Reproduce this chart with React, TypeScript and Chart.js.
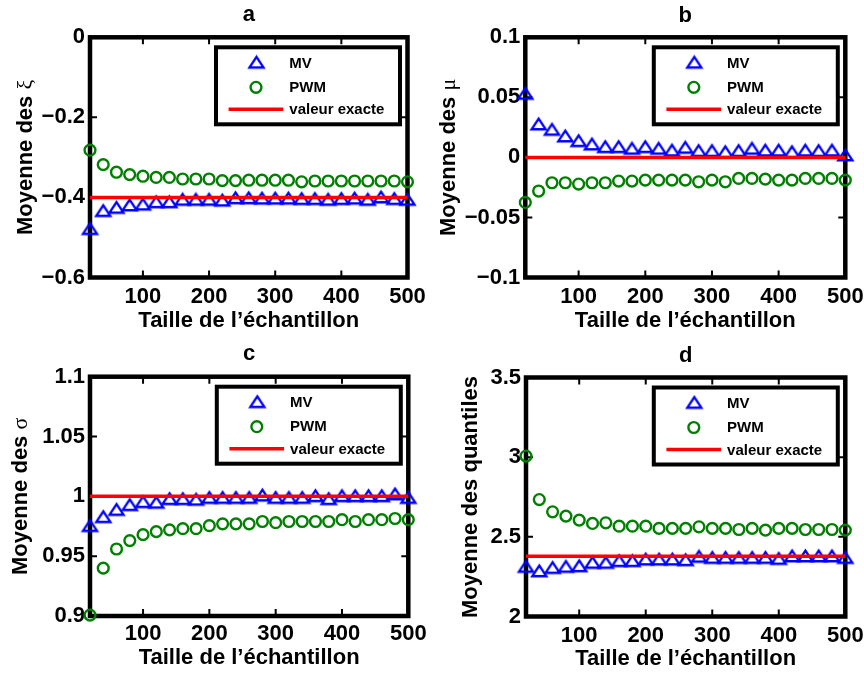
import React, { useEffect, useRef } from 'react';
import { Chart, registerables } from 'chart.js';

Chart.register(...registerables);

// ---------- data ----------
const sampleSizes = [20, 40, 60, 80, 100, 120, 140, 160, 180, 200, 220, 240, 260, 280, 300, 320, 340, 360, 380, 400, 420, 440, 460, 480, 500];
const xTickValues = [100, 200, 300, 400, 500];

const xiMV = [-0.478, -0.433, -0.425, -0.419, -0.417, -0.411, -0.411, -0.405, -0.405, -0.405, -0.407, -0.401, -0.401, -0.402, -0.402, -0.402, -0.403, -0.403, -0.405, -0.403, -0.402, -0.405, -0.399, -0.403, -0.405];
const xiPWM = [-0.282, -0.318, -0.337, -0.343, -0.347, -0.35, -0.35, -0.354, -0.354, -0.354, -0.358, -0.358, -0.357, -0.357, -0.357, -0.357, -0.361, -0.359, -0.359, -0.359, -0.359, -0.359, -0.359, -0.359, -0.361];
const xiExact = -0.4;
const xiTicks = [-0.6, -0.4, -0.2, 0];

const muMV = [0.0533, 0.0278, 0.0233, 0.0178, 0.0139, 0.0111, 0.0089, 0.0089, 0.0075, 0.0089, 0.0075, 0.006, 0.0083, 0.0056, 0.0056, 0.0047, 0.0056, 0.0075, 0.006, 0.006, 0.0047, 0.006, 0.0056, 0.006, 0.002];
const muPWM = [-0.0375, -0.028, -0.0211, -0.0211, -0.0222, -0.0211, -0.0211, -0.0197, -0.0197, -0.0189, -0.0189, -0.0189, -0.0189, -0.0203, -0.0189, -0.0203, -0.0175, -0.0175, -0.0181, -0.0189, -0.0189, -0.0175, -0.0175, -0.0175, -0.0189];
const muExact = 0;
const muTicks = [-0.1, -0.05, 0, 0.05, 0.1];

const sigmaMV = [0.9755, 0.983, 0.989, 0.993, 0.9955, 0.995, 0.998, 0.998, 0.9975, 0.999, 0.999, 0.999, 0.999, 1.001, 0.999, 0.999, 0.999, 1.0005, 0.998, 1.0005, 1.0005, 1.0005, 1.0005, 1.002, 0.999];
const sigmaPWM = [0.9008, 0.94, 0.956, 0.963, 0.968, 0.9705, 0.972, 0.973, 0.973, 0.9755, 0.977, 0.977, 0.977, 0.979, 0.978, 0.979, 0.979, 0.979, 0.979, 0.9805, 0.979, 0.9805, 0.9805, 0.9815, 0.9805];
const sigmaExact = 1;
const sigmaTicks = [0.9, 0.95, 1, 1.05, 1.1];

const qMV = [2.314, 2.286, 2.307, 2.314, 2.318, 2.339, 2.339, 2.35, 2.35, 2.36, 2.36, 2.36, 2.356, 2.377, 2.37, 2.37, 2.37, 2.37, 2.37, 2.364, 2.38, 2.38, 2.38, 2.38, 2.37];
const qPWM = [3.007, 2.734, 2.657, 2.63, 2.605, 2.584, 2.588, 2.567, 2.567, 2.567, 2.553, 2.553, 2.553, 2.563, 2.553, 2.553, 2.546, 2.553, 2.542, 2.553, 2.553, 2.546, 2.546, 2.546, 2.542];
const qExact = 2.378;
const qTicks = [2, 2.5, 3, 3.5];

const legendLabels = ['MV', 'PWM', 'valeur exacte'];
const panelTitles = ['a', 'b', 'c', 'd'];
const xAxisTitle = 'Taille de l\u2019échantillon';
const yTitlePrefix = 'Moyenne des ';
const yTitleSymbols = ['ξ', 'μ', 'σ', 'quantiles'];

// ---------- styles ----------
const SANS = "'Liberation Sans', Arial, Helvetica, sans-serif";
const SERIF = "'Liberation Serif', 'DejaVu Serif', serif";
const BLUE = '#0000ff';
const GREEN = '#008000';
const RED = '#ff0000';

type Spec = {
  left: number; top: number; w: number; h: number;
  plotL: number; plotR: number; plotT: number; plotB: number;
  titleMid: number; yTitleBase: number; xTickPad: number; xTitlePb: number;
  yMin: number; yMax: number;
  ticks: number[]; mv: number[]; pwm: number[]; exact: number;
  title: string; symbol: string; symbolBold: boolean;
};

const specs: Spec[] = [
  { left: 0, top: 0, w: 432, h: 336, plotL: 90, plotR: 407.5, plotT: 37.3, plotB: 277.5, titleMid: 15.1, yTitleBase: 31.7, xTickPad: 6.7, xTitlePb: 2.1,
    yMin: -0.6, yMax: 0, ticks: xiTicks, mv: xiMV, pwm: xiPWM, exact: xiExact, title: panelTitles[0], symbol: yTitleSymbols[0], symbolBold: false },
  { left: 432, top: 0, w: 432, h: 336, plotL: 93.3, plotR: 413.3, plotT: 37.3, plotB: 277.5, titleMid: 15.7, yTitleBase: 23, xTickPad: 6.7, xTitlePb: 2.1,
    yMin: -0.1, yMax: 0.1, ticks: muTicks, mv: muMV, pwm: muPWM, exact: muExact, title: panelTitles[1], symbol: yTitleSymbols[1], symbolBold: false },
  { left: 0, top: 336, w: 432, h: 337, plotL: 90, plotR: 408.3, plotT: 40.7, plotB: 280, titleMid: 18.1, yTitleBase: 26.7, xTickPad: 4.9, xTitlePb: 1.4,
    yMin: 0.9, yMax: 1.1, ticks: sigmaTicks, mv: sigmaMV, pwm: sigmaPWM, exact: sigmaExact, title: panelTitles[2], symbol: yTitleSymbols[2], symbolBold: false },
  { left: 432, top: 336, w: 432, h: 337, plotL: 94, plotR: 413.3, plotT: 41.5, plotB: 280.5, titleMid: 19.7, yTitleBase: 45, xTickPad: 6, xTitlePb: 0.7,
    yMin: 2, yMax: 3.5, ticks: qTicks, mv: qMV, pwm: qPWM, exact: qExact, title: panelTitles[3], symbol: yTitleSymbols[3], symbolBold: true },
];

function makeTriangle(): HTMLCanvasElement {
  const c = document.createElement('canvas');
  c.width = 21; c.height = 16;
  const g = c.getContext('2d')!;
  g.strokeStyle = BLUE;
  g.lineWidth = 2.4;
  g.lineJoin = 'miter';
  g.beginPath();
  g.moveTo(10.5, 2.6);
  g.lineTo(3.5, 13.2);
  g.lineTo(17.5, 13.2);
  g.closePath();
  g.stroke();
  return c;
}

function fmt(v: number): string {
  return v < 0 ? '\u2212' + String(Math.abs(v)) : String(v);
}

function buildConfig(spec: Spec, tri: HTMLCanvasElement): any {
  const mvData = sampleSizes.map((x, i) => ({ x, y: spec.mv[i] }));
  const pwmData = sampleSizes.map((x, i) => ({ x, y: spec.pwm[i] }));
  const exactData = [
    { x: sampleSizes[0], y: spec.exact },
    { x: sampleSizes[sampleSizes.length - 1], y: spec.exact },
  ];

  const boxPlugin = {
    id: 'matlabBox',
    beforeDatasetsDraw(chart: any) {
      const { ctx, chartArea: ca, scales } = chart;
      ctx.save();
      ctx.strokeStyle = '#000';
      ctx.lineWidth = 2;
      const len = 7;
      for (const v of xTickValues) {
        const px = scales.x.getPixelForValue(v);
        ctx.beginPath();
        ctx.moveTo(px, ca.bottom); ctx.lineTo(px, ca.bottom - len);
        ctx.moveTo(px, ca.top); ctx.lineTo(px, ca.top + len);
        ctx.stroke();
      }
      for (const v of spec.ticks) {
        const py = scales.y.getPixelForValue(v);
        ctx.beginPath();
        ctx.moveTo(ca.left, py); ctx.lineTo(ca.left + len, py);
        ctx.moveTo(ca.right, py); ctx.lineTo(ca.right - len, py);
        ctx.stroke();
      }
      ctx.lineWidth = 4.5;
      ctx.lineJoin = 'miter';
      ctx.strokeRect(ca.left, ca.top, ca.right - ca.left, ca.bottom - ca.top);
      ctx.restore();
    },
  };

  const yTitlePlugin = {
    id: 'yTitle',
    afterDraw(chart: any) {
      const { ctx, chartArea: ca } = chart;
      const cy = (ca.top + ca.bottom) / 2;
      ctx.save();
      ctx.translate(spec.yTitleBase, cy);
      ctx.rotate(-Math.PI / 2);
      ctx.fillStyle = '#000';
      ctx.textBaseline = 'alphabetic';
      ctx.textAlign = 'left';
      const f1 = `bold 22px ${SANS}`;
      const f2 = spec.symbolBold ? `bold 22px ${SANS}` : `22px ${SERIF}`;
      ctx.font = f1;
      const w1 = ctx.measureText(yTitlePrefix).width;
      ctx.font = f2;
      const w2 = ctx.measureText(spec.symbol).width;
      const start = -(w1 + w2) / 2;
      ctx.font = f1;
      ctx.fillText(yTitlePrefix, start, 0);
      ctx.font = f2;
      ctx.fillText(spec.symbol, start + w1, 0);
      ctx.restore();
    },
  };

  const legendPlugin = {
    id: 'boxLegend',
    afterDraw(chart: any) {
      const { ctx, chartArea: ca } = chart;
      const bw = 184, bh = 77;
      const bx = ca.right - 7.5 - bw;
      const by = ca.top + 10;
      ctx.save();
      ctx.fillStyle = '#fff';
      ctx.fillRect(bx, by, bw, bh);
      ctx.strokeStyle = '#000';
      ctx.lineWidth = 4;
      ctx.strokeRect(bx, by, bw, bh);
      // MV marker
      ctx.drawImage(tri, bx + 40.5 - tri.width / 2, by + 15 - tri.height / 2);
      // PWM marker
      ctx.beginPath();
      ctx.arc(bx + 40, by + 40, 5.4, 0, Math.PI * 2);
      ctx.lineWidth = 2.4;
      ctx.strokeStyle = GREEN;
      ctx.stroke();
      // exact line
      ctx.beginPath();
      ctx.moveTo(bx + 12.6, by + 62);
      ctx.lineTo(bx + 67.3, by + 62);
      ctx.lineWidth = 3.5;
      ctx.strokeStyle = RED;
      ctx.stroke();
      ctx.fillStyle = '#000';
      ctx.font = `bold 15px ${SANS}`;
      ctx.textAlign = 'left';
      ctx.textBaseline = 'middle';
      ctx.fillText(legendLabels[0], bx + 73.3, by + 16.5);
      ctx.fillText(legendLabels[1], bx + 73.3, by + 40.5);
      ctx.fillText(legendLabels[2], bx + 73.3, by + 63);
      ctx.restore();
    },
  };

  const titlePadTop = spec.titleMid - 13.2;
  const titlePadBottom = spec.plotT - spec.titleMid - 13.2;

  return {
    type: 'scatter',
    data: {
      datasets: [
        {
          label: legendLabels[2], data: exactData, showLine: true, borderColor: RED, borderWidth: 3.5,
          pointRadius: 0, pointHoverRadius: 0, fill: false, order: 0, clip: false,
        },
        {
          label: legendLabels[0], data: mvData, showLine: false, pointStyle: tri, pointRadius: 8,
          borderColor: BLUE, backgroundColor: 'rgba(0,0,0,0)', order: 1, clip: false,
        },
        {
          label: legendLabels[1], data: pwmData, showLine: false, pointStyle: 'circle', pointRadius: 5.4,
          pointBorderWidth: 2.4, borderColor: GREEN, pointBorderColor: GREEN, backgroundColor: 'rgba(0,0,0,0)',
          pointBackgroundColor: 'rgba(0,0,0,0)', order: 2, clip: false,
        },
      ],
    },
    options: {
      responsive: false,
      maintainAspectRatio: false,
      animation: false,
      events: [],
      layout: { padding: { left: 0, top: 0, bottom: 0, right: spec.w - spec.plotR } },
      plugins: {
        legend: { display: false },
        tooltip: { enabled: false },
        title: {
          display: true, text: spec.title, fullSize: false, color: '#000',
          font: { family: SANS, size: 22, weight: 'bold', lineHeight: 1.2 },
          padding: { top: titlePadTop, bottom: titlePadBottom },
        },
      },
      scales: {
        x: {
          type: 'linear', position: 'bottom', min: sampleSizes[0], max: sampleSizes[sampleSizes.length - 1],
          grid: { display: false, drawTicks: false },
          border: { display: false },
          ticks: {
            color: '#000', padding: spec.xTickPad, maxRotation: 0, autoSkip: false,
            font: { family: SANS, size: 22, weight: 'bold', lineHeight: 1.2 },
            callback: (v: number) => String(v),
          },
          afterBuildTicks: (scale: any) => { scale.ticks = xTickValues.map((v) => ({ value: v })); },
          afterFit: (scale: any) => {
            scale.height = spec.h - spec.plotB;
            scale.paddingLeft = 0; scale.paddingRight = 0; scale.paddingTop = 0; scale.paddingBottom = 0;
          },
          title: {
            display: true, text: xAxisTitle, color: '#000',
            font: { family: SANS, size: 22, weight: 'bold', lineHeight: 1.2 },
            padding: { top: 0, bottom: spec.xTitlePb },
          },
        },
        y: {
          type: 'linear', position: 'left', min: spec.yMin, max: spec.yMax,
          grid: { display: false, drawTicks: false },
          border: { display: false },
          ticks: {
            color: '#000', padding: 5, autoSkip: false,
            font: { family: SANS, size: 22, weight: 'bold', lineHeight: 1.2 },
            callback: (v: number) => fmt(v),
          },
          afterBuildTicks: (scale: any) => { scale.ticks = spec.ticks.map((v) => ({ value: v })); },
          afterFit: (scale: any) => {
            scale.width = spec.plotL;
            scale.paddingLeft = 0; scale.paddingRight = 0; scale.paddingTop = 0; scale.paddingBottom = 0;
          },
        },
      },
    },
    plugins: [boxPlugin, yTitlePlugin, legendPlugin],
  };
}

function Panel({ spec }: { spec: Spec }) {
  const ref = useRef<HTMLCanvasElement>(null);
  useEffect(() => {
    const tri = makeTriangle();
    const chart = new Chart(ref.current!, buildConfig(spec, tri));
    return () => chart.destroy();
  }, [spec]);
  return (
    <canvas
      ref={ref}
      width={spec.w}
      height={spec.h}
      style={{ position: 'absolute', left: spec.left, top: spec.top, width: spec.w, height: spec.h }}
    />
  );
}

export default function App() {
  return (
    <div style={{ position: 'absolute', left: 0, top: 0, width: 864, height: 673, background: '#fff', overflow: 'hidden' }}>
      {specs.map((s, i) => (
        <Panel key={i} spec={s} />
      ))}
    </div>
  );
}
